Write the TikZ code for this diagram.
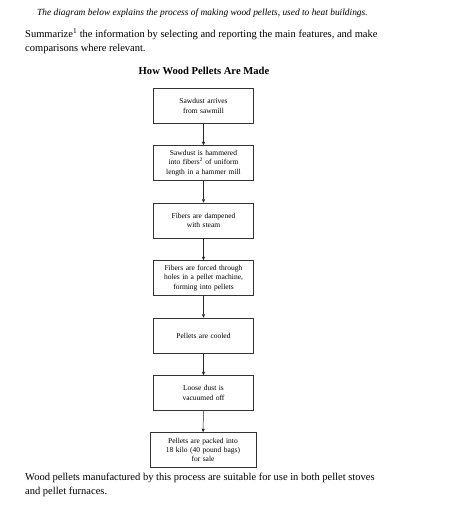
\documentclass[tikz,border=0pt]{standalone}
\usepackage{fontspec}
\setmainfont{Liberation Serif}
\usetikzlibrary{arrows.meta}
\def\Stage#1#2#3{%
 \node[stage box] (#1) at (203.5,-#2) {#3};
}
\begin{document}
\begin{tikzpicture}[x=1pt,y=1pt]
\tikzset{stage box/.style={draw=black!80, line width=0.5pt, text width=96pt,
           align=center, minimum width=100pt, minimum height=35pt, inner sep=2pt,
           font=\fontsize{7.5}{9.3}\selectfont},
     flow/.style={draw=black!85, line width=0.5pt, -{Triangle[length=3.5pt,width=3pt]}},
     body text/.style={anchor=base west, inner sep=0pt, align=left,
           font=\fontsize{10.5}{13}\selectfont}
     }
\useasboundingbox (0,0) rectangle (464,-512);
\node[body text, font=\itshape\fontsize{9.4}{13}\selectfont] (intro) at (37,-15)
  {The diagram below explains the process of making wood pellets, used to heat buildings.};
\node[body text] (task) at (25,-37.7)
  {Summarize\textsuperscript{1} the information by selecting and reporting the main features, and make};
\node[body text] (task2) at (25,-51)
  {comparisons where relevant.};
\node[font=\bfseries\fontsize{10.6}{13}\selectfont, anchor=base, inner sep=0pt] (title) at (204,-74)
  {How Wood Pellets Are Made};
% the stages
\Stage{arrive}{106}{Sawdust arrives\\from sawmill}
\Stage{hammer}{163}{Sawdust is hammered\\into fibers\textsuperscript{2} of uniform\\length in a hammer mill}
\Stage{steam}{220.5}{Fibers are dampened\\with steam}
\Stage{press}{278}{Fibers are forced through\\holes in a pellet machine,\\forming into pellets}
\Stage{cool}{335.5}{Pellets are cooled}
\Stage{vacuum}{393}{Loose dust is\\vacuumed off}
\node[stage box, minimum width=106pt, text width=102pt] (pack) at (203,-450)
  {Pellets are packed into\\18 kilo (40 pound bags)\\for sale};
\foreach \a/\b in {arrive/hammer, hammer/steam, steam/press, press/cool, cool/vacuum, vacuum/pack}
  \draw[flow] (\a) -- (\b);
\node[body text] (outro) at (25,-480.7)
  {Wood pellets manufactured by this process are suitable for use in both pellet stoves};
\node[body text] (outro2) at (25,-494)
  {and pellet furnaces.};
\end{tikzpicture}
\end{document}
